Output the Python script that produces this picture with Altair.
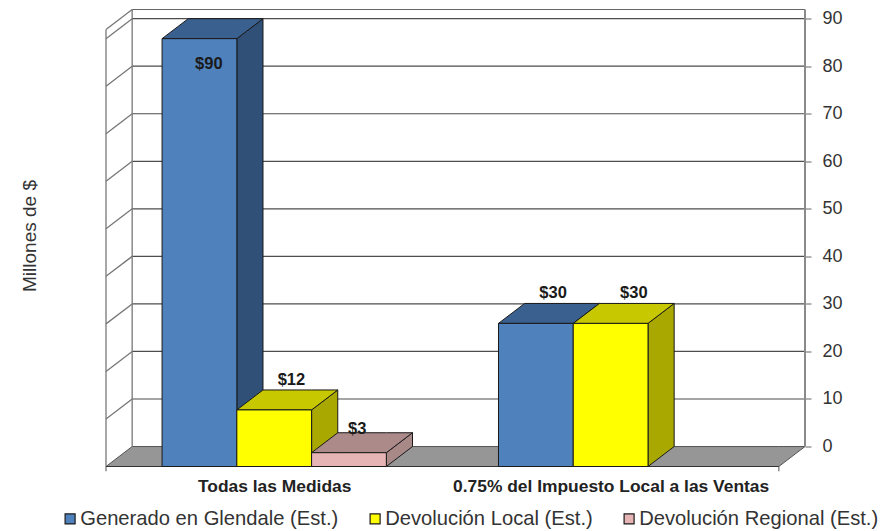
import altair as alt
import pandas as pd

categories = ["Todas las Medidas", "0.75% del Impuesto Local a las Ventas"]
series = ["Generado en Glendale (Est.)", "Devolución Local (Est.)", "Devolución Regional (Est.)"]
values_cat1 = [90, 11.9, 2.9]
values_cat2 = [30.1, 30.1]
labels_cat1 = ["$90", "$12", "$3"]
labels_cat2 = ["$30", "$30"]
y_ticks = [0, 10, 20, 30, 40, 50, 60, 70, 80, 90]
front_colors = ["#4F81BD", "#FFFF00", "#E6B4B4"]
top_colors = ["#3A6090", "#C8C800", "#AD8A8A"]
side_colors = ["#315078", "#A8A800", "#A98888"]

# chart geometry in scale units: a bar is 1 wide, gaps 0.75 each side, depth offsets
DX, DY, YTOP, XMAX = 0.35, 4.2, 91.93, 9.0
FONT = "Liberation Sans"
EDGE = "#1a1a1a"

x_scale = alt.Scale(domain=[0, XMAX + DX], nice=False, zero=False)
y_scale = alt.Scale(domain=[-DY, YTOP], nice=False, zero=False)
X_plain = alt.X("x:Q", scale=x_scale, axis=None)
Y_plain = alt.Y("y:Q", scale=y_scale, axis=None)


def face(rows, color, stroke=EDGE):
    return alt.Chart(pd.DataFrame(rows)).mark_area(fill=color, stroke=stroke, strokeWidth=1).encode(
        x=X_plain, y=Y_plain, y2="y2:Q")


fronts, side_layers, top_layers, texts = [], [], [], []
offsets = {(0, 0): (0.125, -9.5), (0, 1): (0.23, 2.0), (0, 2): (0.11, 0.8),
           (1, 0): (0.23, 2.2), (1, 1): (0.31, 2.2)}
for c, (vals, labs) in enumerate([(values_cat1, labels_cat1), (values_cat2, labels_cat2)]):
    for s, (v, lab) in enumerate(zip(vals, labs)):
        x0 = 4.5 * c + 0.75 + s
        x1 = x0 + 1
        low, high = -DY, v - DY
        fronts.append(dict(x=x0, x2=x1, y=low, y2=high, serie=series[s]))
        side_layers.append(face([dict(x=x1, y=low, y2=high), dict(x=x1 + DX, y=0, y2=v)], side_colors[s]))
        top_layers.append(face([dict(x=x0, y=high, y2=high), dict(x=x0 + DX, y=high, y2=v),
                                dict(x=x1, y=high, y2=v), dict(x=x1 + DX, y=v, y2=v)], top_colors[s]))
        ox, oy = offsets[(c, s)]
        texts.append(dict(lab=lab, tx=x0 + 0.5 + ox, ty=v + oy))

floor = [dict(x=0, y=-DY, y2=-DY), dict(x=DX, y=-DY, y2=0),
         dict(x=XMAX, y=-DY, y2=0), dict(x=XMAX + DX, y=0, y2=0)]
grid = [dict(x=DX, x2=XMAX + DX, y=v) for v in y_ticks[1:]]
frame = [dict(x=DX, x2=XMAX + DX, y=YTOP)]

lines = []
lid = 0
for v in y_ticks[1:] + [YTOP]:
    lines += [dict(id=lid, x=0, y=v - DY), dict(id=lid, x=DX, y=v)]
    lid += 1
lines += [dict(id=lid, x=DX, y=0), dict(id=lid, x=DX, y=YTOP)]; lid += 1
lines += [dict(id=lid, x=0, y=-DY - 1), dict(id=lid, x=0, y=YTOP - DY)]; lid += 1
lines += [dict(id=lid, x=XMAX, y=-DY - 1), dict(id=lid, x=XMAX, y=-DY)]; lid += 1

label_expr = f"datum.value < 4.5 ? '{categories[0]}' : '{categories[1]}'"
X = alt.X("x:Q", scale=x_scale, title=None,
          axis=alt.Axis(values=[2.25, 6.75], labelExpr=label_expr, domain=False, ticks=False, grid=False,
                        labelFont=FONT, labelFontWeight="bold", labelFontSize=17.4, labelColor="#222222",
                        labelPadding=11, labelOverlap=False, labelFlush=False, labelAngle=0, labelLimit=500))

floor_l = alt.Chart(pd.DataFrame(floor)).mark_area(fill="#969696", stroke="#555555", strokeWidth=1).encode(
    x=X, y=Y_plain, y2="y2:Q")

left_axis = alt.Chart(pd.DataFrame({"y": [0]})).mark_point(opacity=0).encode(
    y=alt.Y("y:Q", scale=y_scale, title="Millones de $",
            axis=alt.Axis(orient="left", values=[], domain=False, ticks=False, labels=False, grid=False,
                          titleFont=FONT, titleFontSize=19, titleFontWeight="normal", titleColor="#333333",
                          titleX=-67, titleY=226, titleAngle=270)))

grid_l = alt.Chart(pd.DataFrame(grid)).mark_rule(color="#4d4d4d", strokeWidth=1.2).encode(
    x=X_plain, x2="x2:Q",
    y=alt.Y("y:Q", scale=y_scale, title=None,
            axis=alt.Axis(orient="right", values=y_ticks, domain=False, grid=False, tickSize=6, tickColor="#666666",
                          labelFont=FONT, labelFontSize=18, labelColor="#333333", labelPadding=11,
                          labelBaseline="middle")))
frame_l = alt.Chart(pd.DataFrame(frame)).mark_rule(color="#666666", strokeWidth=1.2).encode(
    x=X_plain, x2="x2:Q", y=Y_plain)
right_wall = alt.Chart(pd.DataFrame({"x": [XMAX + DX], "y": [0], "y2": [YTOP]})).mark_rule(
    color="#8a8a8a", strokeWidth=2).encode(x=X_plain, y=Y_plain, y2="y2:Q")
lines_l = alt.Chart(pd.DataFrame(lines)).mark_line(color="#777777", strokeWidth=1.3).encode(
    x=X_plain, y=Y_plain, detail="id:N", order="y:Q")
base_l = alt.Chart(pd.DataFrame([dict(x=0, x2=XMAX, y=-DY)])).mark_rule(color="#333333", strokeWidth=1.2).encode(
    x=X_plain, x2="x2:Q", y=Y_plain)

fronts_l = alt.Chart(pd.DataFrame(fronts)).mark_bar(stroke=EDGE, strokeWidth=1).encode(
    x=X_plain, x2="x2:Q", y=Y_plain, y2="y2:Q",
    fill=alt.Fill("serie:N", scale=alt.Scale(domain=series, range=front_colors), sort=series, title=None,
                  legend=alt.Legend(orient="none", legendX=-46, legendY=499, direction="horizontal", columns=3,
                                    symbolType="square", symbolSize=100, symbolStrokeColor=EDGE,
                                    symbolStrokeWidth=1.2, labelFont=FONT, labelFontSize=20.2, labelColor="#333333",
                                    labelOffset=0, columnPadding=26, labelLimit=400, padding=0)))
text_l = alt.Chart(pd.DataFrame(texts)).mark_text(font=FONT, fontWeight="bold", fontSize=16.5, color=EDGE).encode(
    x=alt.X("tx:Q", scale=x_scale, axis=None), y=alt.Y("ty:Q", scale=y_scale, axis=None), text="lab:N")

chart = alt.layer(
    floor_l, left_axis, grid_l, frame_l, lines_l, right_wall, base_l,
    *side_layers, *top_layers, fronts_l, text_l
).resolve_axis(x="independent", y="independent").properties(
    width=699, height=457, autosize=alt.AutoSizeParams(type="none"),
    padding={"left": 98, "top": 1.5, "right": 77, "bottom": 64}
).configure_view(stroke=None)

chart.save("out.html", embed_options={"renderer": "svg", "actions": False})
